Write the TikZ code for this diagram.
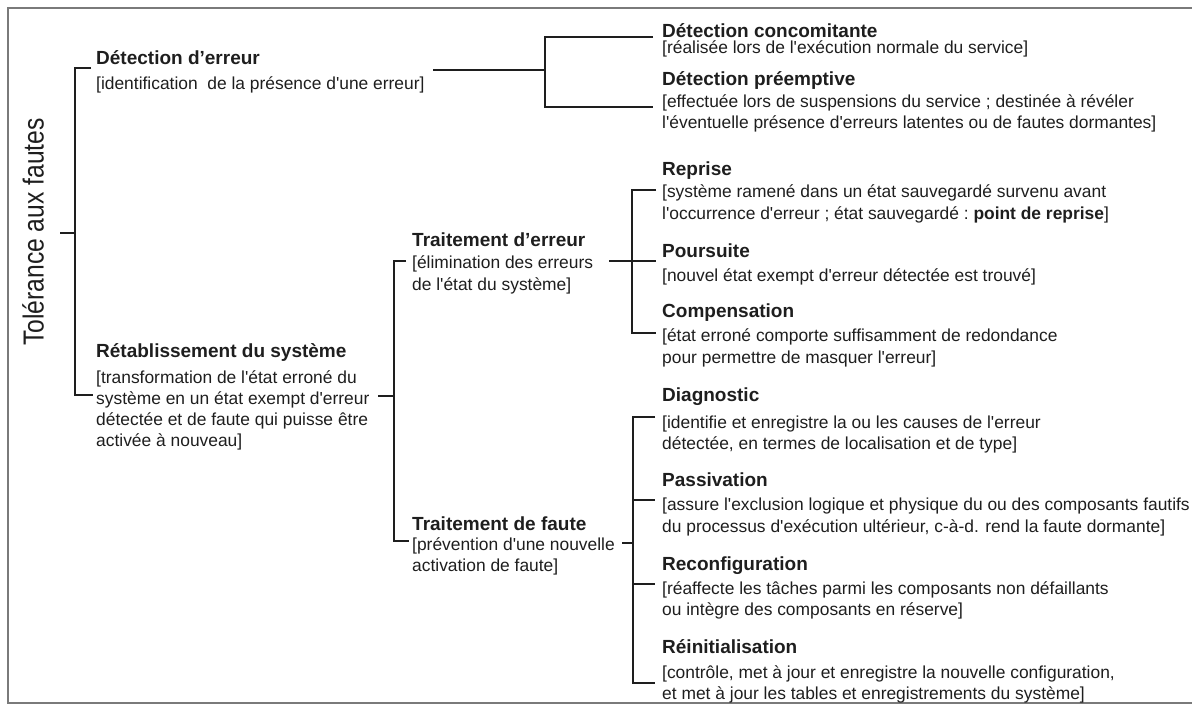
\documentclass[tikz,border=0pt]{standalone}
\usepackage{fontspec}
\setmainfont{Liberation Sans}
\newfontfamily\narrowsans[FakeStretch=0.85]{Liberation Sans}
\definecolor{ink}{HTML}{1E1E1E}
\definecolor{framegray}{HTML}{7A7A7A}
\newcommand\twol[3]{\vtop{\baselineskip=#1pt\hbox{#2}\hbox{#3}}}
\newcommand\fourl[5]{\vtop{\baselineskip=#1pt\hbox{#2}\hbox{#3}\hbox{#4}\hbox{#5}}}
\newcommand\q{\textquotesingle}
\begin{document}
\begin{tikzpicture}[x=1pt,y=-1pt,
  title/.style={anchor=base west, inner sep=0pt, text=ink, font=\fontsize{19}{22}\selectfont\bfseries},
  desc/.style={anchor=base west, inner sep=0pt, text=ink, font=\fontsize{17.4}{21}\selectfont},
  link/.style={draw=ink, line width=2.8pt},
  rootlabel/.style={inner sep=0pt, text=ink, rotate=90, font=\narrowsans\fontsize{29}{30}\selectfont}]
\useasboundingbox (0,0) rectangle (1192,705);
\draw[framegray, line width=2pt] (1192,8) -- (8,8) -- (8,703) -- (1192,703);

% root
\node[rootlabel] (root) at (33,232) {Tolérance aux fautes};

% level 1
\node[title] (detT) at (96,64) {Détection d’erreur};
\node[desc]  (detD) at (96,89) {[identification\ \ de la présence d\q une erreur]};
\node[title] (retT) at (96,357) {Rétablissement du système};
\node[desc]  (retD) at (96,383) {\fourl{21.2}{[transformation de l\q état erroné du}{système en un état exempt d\q erreur}{détectée et de faute qui puisse être}{activée à nouveau]}};

% level 2
\node[title] (terT) at (412,246) {Traitement d’erreur};
\node[desc]  (terD) at (412,268) {\twol{22}{[élimination des erreurs}{de l\q état du système]}};
\node[title] (tfaT) at (412,530) {Traitement de faute};
\node[desc]  (tfaD) at (412,550) {\twol{21}{[prévention d\q une nouvelle}{activation de faute]}};

% detection children
\node[title] (dcoT) at (662,37) {Détection concomitante};
\node[desc]  (dcoD) at (662,53) {[réalisée lors de l\q exécution normale du service]};
\node[title] (dprT) at (662,85) {Détection préemptive};
\node[desc]  (dprD) at (662,107) {\twol{21.5}{[effectuée lors de suspensions du service ; destinée à révéler}{l\q éventuelle présence d\q erreurs latentes ou de fautes dormantes]}};

% error handling children
\node[title] (repT) at (662,175) {Reprise};
\node[desc]  (repD) at (662,197) {\twol{22.5}{[système ramené dans un état sauvegardé survenu avant}{l\q occurrence d\q erreur ; état sauvegardé :\ \textbf{point de reprise}]}};
\node[title] (pouT) at (662,257) {Poursuite};
\node[desc]  (pouD) at (662,281) {[nouvel état exempt d\q erreur détectée est trouvé]};
\node[title] (comT) at (662,317) {Compensation};
\node[desc]  (comD) at (662,341) {\twol{22}{[état erroné comporte suffisamment de redondance}{pour permettre de masquer l\q erreur]}};

% fault handling children
\node[title] (diaT) at (662,401) {Diagnostic};
\node[desc]  (diaD) at (662,428) {\twol{21}{[identifie et enregistre la ou les causes de l\q erreur}{détectée, en termes de localisation et de type]}};
\node[title] (pasT) at (662,486) {Passivation};
\node[desc]  (pasD) at (662,510) {\twol{22}{[assure l\q exclusion logique et physique du ou des composants fautifs}{du processus d\q exécution ultérieur, c-à-d. rend la faute dormante]}};
\node[title] (recT) at (662,570) {Reconfiguration};
\node[desc]  (recD) at (662,594) {\twol{21}{[réaffecte les tâches parmi les composants non défaillants}{ou intègre des composants en réserve]}};
\node[title] (reiT) at (662,653) {Réinitialisation};
\node[desc]  (reiD) at (662,678) {\twol{21}{[contrôle, met à jour et enregistre la nouvelle configuration,}{et met à jour les tables et enregistrements du système]}};

% connector coordinates
\coordinate (rootOut) at (60,233);
\coordinate (rootJ) at (75,233);
\coordinate (detIn) at (91,68);
\coordinate (retIn) at (93,395);
\coordinate (detOut) at (433,70);
\coordinate (detJ) at (545,70);
\coordinate (dcoIn) at (653,37);
\coordinate (dprIn) at (653,107);
\coordinate (retOut) at (378,396);
\coordinate (retJ) at (394,396);
\coordinate (terIn) at (406,261);
\coordinate (tfaIn) at (409,541);
\coordinate (terOut) at (609,261);
\coordinate (terJ) at (632,261);
\coordinate (repIn) at (656,190);
\coordinate (pouIn) at (656,261);
\coordinate (comIn) at (656,333);
\coordinate (tfaOut) at (622,543);
\coordinate (tfaJ) at (633,543);
\coordinate (diaIn) at (655,417);
\coordinate (pasIn) at (655,500);
\coordinate (recIn) at (655,584);
\coordinate (reiIn) at (655,683);

% brackets
\draw[link] (rootOut) -- (rootJ);
\draw[link] (detIn) -- (rootJ |- detIn) -- (rootJ |- retIn) -- (retIn);

\draw[link] (detOut) -- (detJ);
\draw[link] (dcoIn) -- (detJ |- dcoIn) -- (detJ |- dprIn) -- (dprIn);

\draw[link] (retOut) -- (retJ);
\draw[link] (terIn) -- (retJ |- terIn) -- (retJ |- tfaIn) -- (tfaIn);

\draw[link] (terOut) -- (terJ) -- (pouIn);
\draw[link] (repIn) -- (terJ |- repIn) -- (terJ |- comIn) -- (comIn);

\draw[link] (tfaOut) -- (tfaJ);
\draw[link] (diaIn) -- (tfaJ |- diaIn) -- (tfaJ |- reiIn) -- (reiIn);
\draw[link] (tfaJ |- pasIn) -- (pasIn);
\draw[link] (tfaJ |- recIn) -- (recIn);
\end{tikzpicture}
\end{document}
